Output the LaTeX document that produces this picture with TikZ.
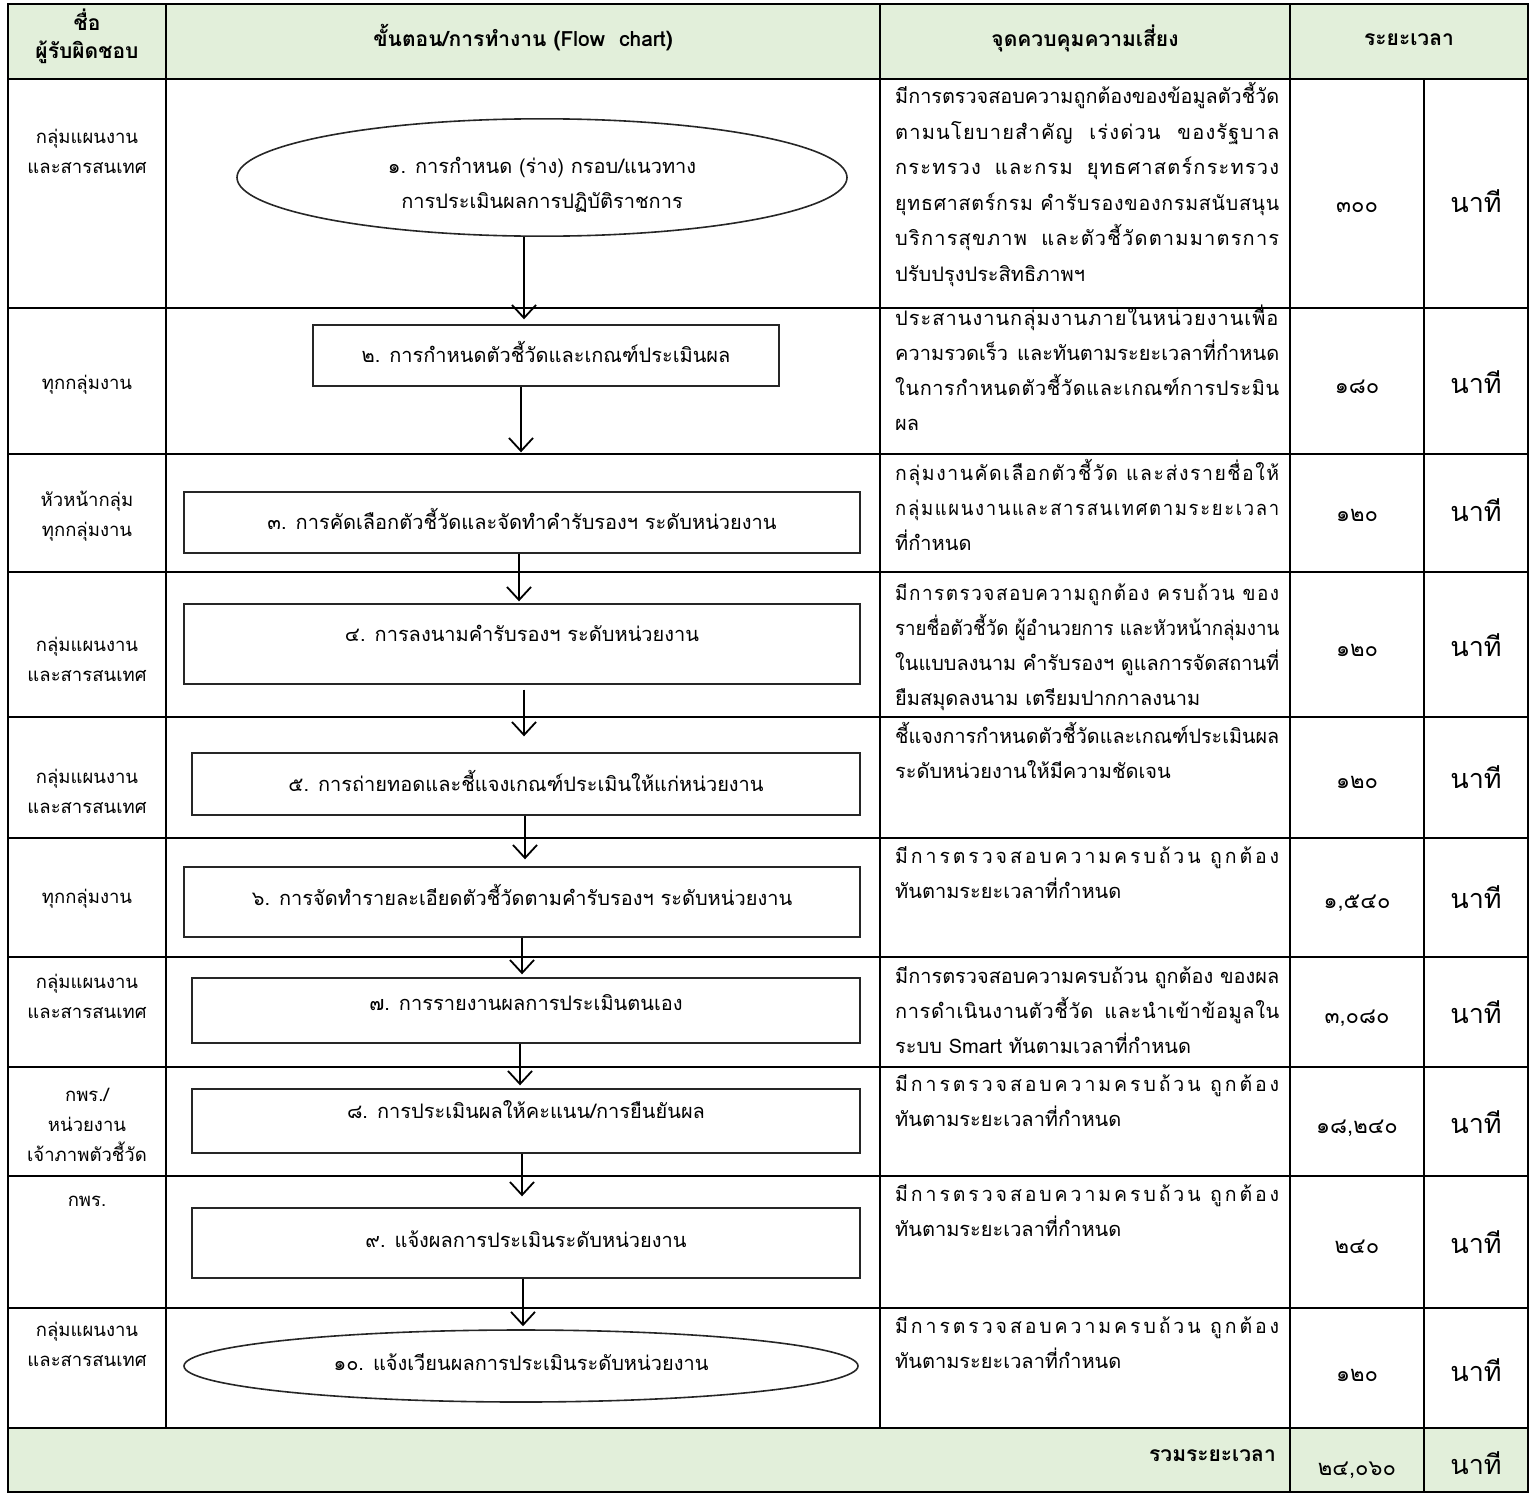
\documentclass[tikz,border=0pt]{standalone}
\usepackage{fontspec}
\usepackage{graphicx}
\setmainfont{Loma}[Script=Thai]
\usetikzlibrary{shapes.geometric,arrows.meta}
\definecolor{hdrgreen}{RGB}{226,239,218}
\newlength\cw
\setlength\cw{384pt}
\newsavebox\lbox
% justified line: stretch spaces, or squeeze if too wide
\newcommand\Jl[1]{\sbox\lbox{#1}\ifdim\wd\lbox>\cw\strut\resizebox{\cw}{\height}{\usebox\lbox}\else\makebox[\cw][s]{\strut #1}\fi}
% distributed line: letter-spaced, then justified
\newcommand\Dl[2]{\sbox\lbox{\addfontfeature{LetterSpace=#1}#2}\ifdim\wd\lbox>\cw\strut\resizebox{\cw}{\height}{\usebox\lbox}\else\makebox[\cw][s]{\addfontfeature{LetterSpace=#1}\strut #2}\fi}
\newcommand\Ll[1]{\makebox[\cw][l]{\strut #1}}
\begin{document}
\begin{tikzpicture}[x=1pt,y=-1pt,
  grid/.style={line width=2.6pt, line cap=rect},
  hd/.style={inner sep=0pt, align=center, font=\fontsize{21}{28}\selectfont\bfseries},
  resp/.style={inner sep=0pt, align=center, font=\fontsize{18.5}{30}\selectfont},
  ctrl/.style={inner sep=0pt, align=left, anchor=north west, font=\fontsize{20}{35}\selectfont},
  num/.style={inner sep=0pt, font=\fontsize{22}{28}\selectfont},
  unit/.style={inner sep=0pt, font=\fontsize{27}{36}\selectfont},
  stepbox/.style={draw=black!85, line width=1.4pt, rectangle, inner sep=0pt, align=center, font=\fontsize{20}{24}\selectfont},
  oval/.style={draw=black!85, line width=1.6pt, ellipse, inner sep=0pt, align=center, font=\fontsize{20}{35}\selectfont},
  arr/.style={line width=1.8pt, -{Straight Barb[length=13pt,width=24pt]}}
]
\useasboundingbox (0,0) rectangle (1533,1496);
% fills
\fill[hdrgreen] (8,4) rectangle (1528,79);
\fill[hdrgreen] (8,1428) rectangle (1528,1492);

% header
\node[hd] (h1) at (87,38) {\strut ชื่อ\\\strut ผู้รับผิดชอบ};
\node[hd] (h2) at (523,40) {\strut ขั้นตอน/การทำงาน (Flow\ \ chart)};
\node[hd] (h3) at (1085,40) {\strut จุดควบคุมความเสี่ยง};
\node[hd] (h4) at (1409,40) {\strut ระยะเวลา};

% responsible column
\node[resp] (l1) at (87,152) {\strut กลุ่มแผนงาน\\\strut และสารสนเทศ};
\node[resp] (l2) at (87,383) {\strut ทุกกลุ่มงาน};
\node[resp] (l3) at (87,515) {\strut หัวหน้ากลุ่ม\\\strut ทุกกลุ่มงาน};
\node[resp] (l4) at (87,660) {\strut กลุ่มแผนงาน\\\strut และสารสนเทศ};
\node[resp] (l5) at (87,792) {\strut กลุ่มแผนงาน\\\strut และสารสนเทศ};
\node[resp] (l6) at (87,897) {\strut ทุกกลุ่มงาน};
\node[resp] (l7) at (87,997) {\strut กลุ่มแผนงาน\\\strut และสารสนเทศ};
\node[resp] (l8) at (87,1125) {\strut กพร./\\\strut หน่วยงาน\\\strut เจ้าภาพตัวชี้วัด};
\node[resp] (l9) at (87,1200) {\strut กพร.};
\node[resp] (l10) at (87,1345) {\strut กลุ่มแผนงาน\\\strut และสารสนเทศ};

% control column
\node[ctrl, font=\fontsize{20}{35.5}\selectfont] (k1) at (895,78.5) {\Jl{มีการตรวจสอบความถูกต้องของข้อมูลตัวชี้วัด}\\\Dl{6}{ตามนโยบายสำคัญ เร่งด่วน ของรัฐบาล}\\\Dl{6}{กระทรวง และกรม ยุทธศาสตร์กระทรวง}\\\Dl{4}{ยุทธศาสตร์กรม คำรับรองของกรมสนับสนุน}\\\Dl{6}{บริการสุขภาพ และตัวชี้วัดตามมาตรการ}\\\Ll{ปรับปรุงประสิทธิภาพฯ}};
\node[ctrl] (k2) at (895,301) {\Dl{5}{ประสานงานกลุ่มงานภายในหน่วยงานเพื่อ}\\\Jl{ความรวดเร็ว และทันตามระยะเวลาที่กำหนด}\\\Dl{3}{ในการกำหนดตัวชี้วัดและเกณฑ์การประมิน}\\\Ll{ผล}};
\node[ctrl] (k3) at (895,456) {\Dl{8}{กลุ่มงานคัดเลือกตัวชี้วัด และส่งรายชื่อให้}\\\Dl{9}{กลุ่มแผนงานและสารสนเทศตามระยะเวลา}\\\Ll{ที่กำหนด}};
\node[ctrl] (k4) at (895,576) {\Dl{8}{มีการตรวจสอบความถูกต้อง ครบถ้วน ของ}\\\Jl{รายชื่อตัวชี้วัด ผู้อำนวยการ และหัวหน้ากลุ่มงาน}\\\Jl{ในแบบลงนาม คำรับรองฯ ดูแลการจัดสถานที่}\\\Ll{ยืมสมุดลงนาม เตรียมปากกาลงนาม}};
\node[ctrl] (k5) at (895,719) {\Jl{ชี้แจงการกำหนดตัวชี้วัดและเกณฑ์ประเมินผล}\\\Ll{ระดับหน่วยงานให้มีความชัดเจน}};
\node[ctrl] (k6) at (895,839) {\Dl{15}{มีการตรวจสอบความครบถ้วน ถูกต้อง}\\\Ll{ทันตามระยะเวลาที่กำหนด}};
\node[ctrl] (k7) at (895,959) {\Jl{มีการตรวจสอบความครบถ้วน ถูกต้อง ของผล}\\\Dl{3}{การดำเนินงานตัวชี้วัด และนำเข้าข้อมูลใน}\\\Ll{ระบบ Smart ทันตามเวลาที่กำหนด}};
\node[ctrl] (k8) at (895,1067) {\Dl{15}{มีการตรวจสอบความครบถ้วน ถูกต้อง}\\\Ll{ทันตามระยะเวลาที่กำหนด}};
\node[ctrl] (k9) at (895,1177) {\Dl{15}{มีการตรวจสอบความครบถ้วน ถูกต้อง}\\\Ll{ทันตามระยะเวลาที่กำหนด}};
\node[ctrl] (k10) at (895,1309) {\Dl{15}{มีการตรวจสอบความครบถ้วน ถูกต้อง}\\\Ll{ทันตามระยะเวลาที่กำหนด}};

% time column
\node[num] (n1) at (1357,207) {\strut ๓๐๐};
\node[num] (n2) at (1357,388) {\strut ๑๘๐};
\node[num] (n3) at (1357,516) {\strut ๑๒๐};
\node[num] (n4) at (1357,651) {\strut ๑๒๐};
\node[num] (n5) at (1357,783) {\strut ๑๒๐};
\node[num] (n6) at (1357,903) {\strut ๑,๕๔๐};
\node[num] (n7) at (1357,1018) {\strut ๓,๐๘๐};
\node[num] (n8) at (1357,1128) {\strut ๑๘,๒๔๐};
\node[num] (n9) at (1357,1248) {\strut ๒๔๐};
\node[num] (n10) at (1357,1376) {\strut ๑๒๐};
\node[num] (ntot) at (1357,1470) {\strut ๒๔,๐๖๐};
\foreach \yy/\nm in {205/u1,386/u2,514/u3,649/u4,781/u5,901/u6,1016/u7,1126/u8,1246/u9,1374/u10,1467/utot}
  \node[unit] (\nm) at (1476,\yy) {\strut นาที};
\node[hd, anchor=east] (tot) at (1276,1456) {\strut รวมระยะเวลา};

% flow shapes
\node[oval, minimum width=610pt, minimum height=113pt, text height=72.5pt] (e1) at (542,177.5) {\strut ๑. การกำหนด (ร่าง) กรอบ/แนวทาง\\\strut การประเมินผลการปฏิบัติราชการ};
\node[stepbox, minimum width=466pt, minimum height=61pt] (b2) at (546,355.5) {\strut ๒. การกำหนดตัวชี้วัดและเกณฑ์ประเมินผล};
\node[stepbox, minimum width=676pt, minimum height=61pt] (b3) at (522,522.5) {\strut ๓. การคัดเลือกตัวชี้วัดและจัดทำคำรับรองฯ ระดับหน่วยงาน};
\node[stepbox, minimum width=676pt, minimum height=80pt, text depth=21pt] (b4) at (522,644) {\strut ๔. การลงนามคำรับรองฯ ระดับหน่วยงาน};
\node[stepbox, minimum width=668pt, minimum height=62pt] (b5) at (526,784) {\strut ๕. การถ่ายทอดและชี้แจงเกณฑ์ประเมินให้แก่หน่วยงาน};
\node[stepbox, minimum width=676pt, minimum height=70pt, text depth=15pt] (b6) at (522,902) {\strut ๖. การจัดทำรายละเอียดตัวชี้วัดตามคำรับรองฯ ระดับหน่วยงาน};
\node[stepbox, minimum width=668pt, minimum height=65pt, text depth=16pt] (b7) at (526,1010.5) {\strut ๗. การรายงานผลการประเมินตนเอง};
\node[stepbox, minimum width=668pt, minimum height=64pt, text depth=23pt] (b8) at (526,1121) {\strut ๘. การประเมินผลให้คะแนน/การยืนยันผล};
\node[stepbox, minimum width=668pt, minimum height=70pt] (b9) at (526,1243) {\strut ๙. แจ้งผลการประเมินระดับหน่วยงาน};
\node[oval, minimum width=674pt, minimum height=72pt, font=\fontsize{20}{24}\selectfont] (e10) at (521,1366) {\strut ๑๐. แจ้งเวียนผลการประเมินระดับหน่วยงาน};

% connectors
\coordinate (ax1) at (524,0);
\coordinate (ax2) at (521,0);
\coordinate (ax3) at (519,0);
\coordinate (ax4) at (524,0);
\coordinate (ax5) at (525,0);
\coordinate (ax6) at (522,0);
\coordinate (ax7) at (520,0);
\coordinate (ax8) at (522,0);
\coordinate (ax9) at (523,0);
\draw[arr, shorten >=5pt] (ax1 |- e1.south) -- (ax1 |- b2.north);
\draw[arr, shorten >=39pt] (ax2 |- b2.south) -- (ax2 |- b3.north);
\draw[arr, shorten >=2pt] (ax3 |- b3.south) -- (ax3 |- b4.north);
\draw[arr, shorten <=5pt, shorten >=16pt] (ax4 |- b4.south) -- (ax4 |- b5.north);
\draw[arr, shorten >=7pt] (ax5 |- b5.south) -- (ax5 |- b6.north);
\draw[arr, shorten >=3pt] (ax6 |- b6.south) -- (ax6 |- b7.north);
\draw[arr, shorten >=3pt] (ax7 |- b7.south) -- (ax7 |- b8.north);
\draw[arr, shorten >=11pt] (ax8 |- b8.south) -- (ax8 |- b9.north);
\draw[arr, shorten >=3pt] (ax9 |- b9.south) -- (ax9 |- e10.north);

% table grid
\foreach \yy in {79,308,454,572,717,838,957,1067,1176,1308,1428}
  \draw[grid] (8,\yy) -- (1528,\yy);
\draw[grid] (166,4) -- (166,1428);
\draw[grid] (880,4) -- (880,1428);
\draw[grid] (1290,4) -- (1290,1492);
\draw[grid] (1424,79) -- (1424,1492);
\draw[grid] (8,4) rectangle (1528,1492);
\end{tikzpicture}
\end{document}
